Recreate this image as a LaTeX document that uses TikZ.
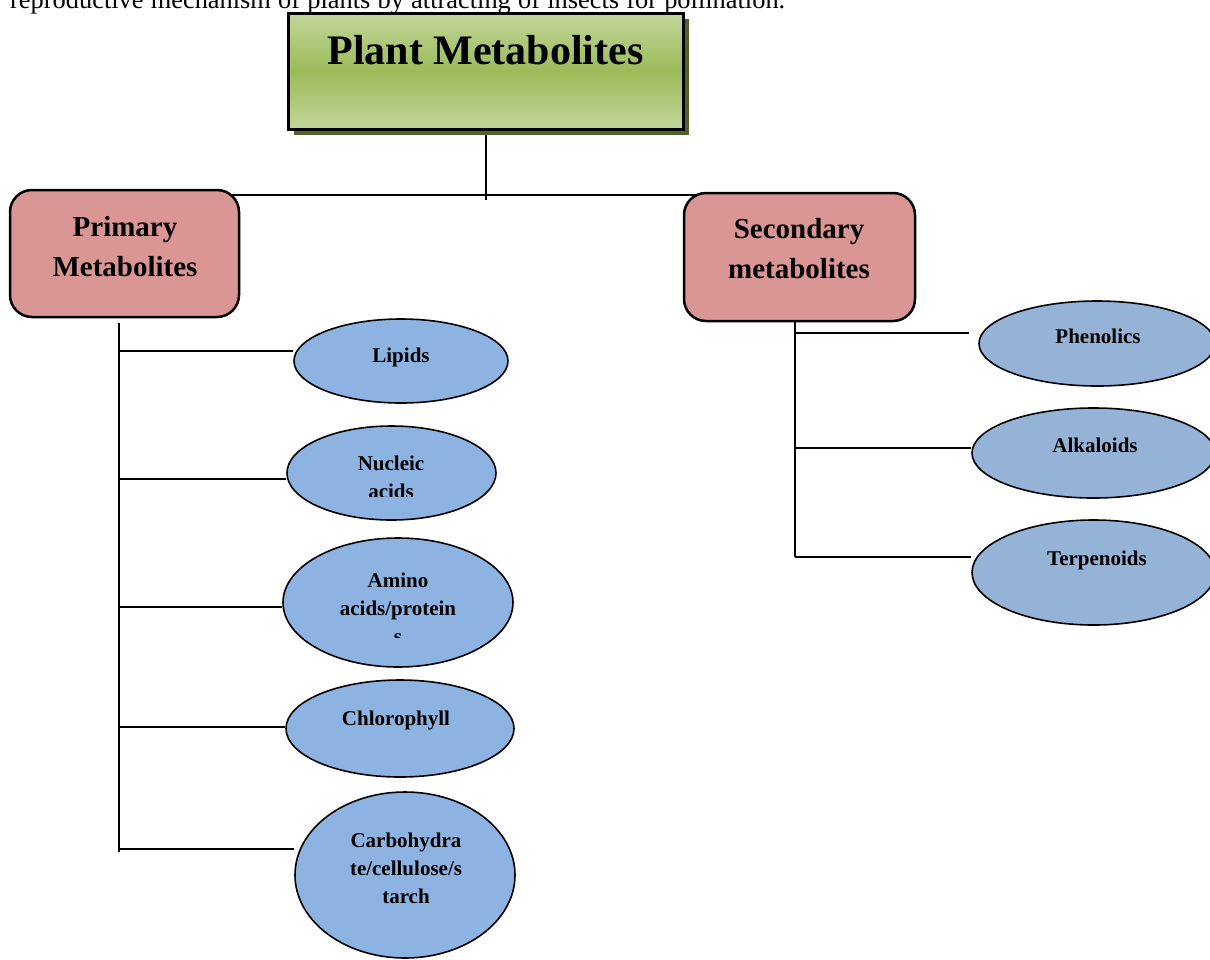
\documentclass[tikz,border=0pt]{standalone}
\usepackage{fontspec}
\setmainfont{Liberation Serif}
\usepackage{xcolor}
\usetikzlibrary{shapes.geometric, shadows, backgrounds}

\definecolor{headlight}{HTML}{C3D69B}
\definecolor{headmid}{HTML}{9BBB59}
\definecolor{headshade}{HTML}{4F6228}
\definecolor{catred}{HTML}{D99694}
\definecolor{primblue}{HTML}{8DB3E2}
\definecolor{secblue}{HTML}{95B3D7}

\begin{document}
\begin{tikzpicture}[x=1pt, y=-1pt,
        headbox/.style={rectangle, draw, line width=3pt, top color=headlight, bottom color=headlight, middle color=headmid, general shadow={fill=headshade, shadow xshift=5.5pt, shadow yshift=-5.5pt}, minimum width=395pt, minimum height=116pt, inner sep=0pt},
        catbox/.style={rectangle, draw, line width=2.5pt, fill=catred, rounded corners=22pt, inner sep=0pt},
        primell/.style={ellipse, draw, line width=1.6pt, fill=primblue, inner sep=0pt},
        secell/.style={ellipse, draw, line width=1.6pt, fill=secblue, inner sep=0pt},
        cattext/.style={anchor=base, inner sep=0pt, text width=220pt, align=center, font=\bfseries\fontsize{29}{40}\selectfont},
        elltext/.style={anchor=base, inner sep=0pt, text width=200pt, align=center, font=\bfseries\fontsize{21}{28}\selectfont},
        link/.style={line width=2pt}]
        \clip (0,0) rectangle (1210,959);

        \node (intro) [anchor=base west, inner sep=0pt, font=\fontsize{26.4}{30}\selectfont] at (10,8.5) {\makebox[775pt][s]{reproductive mechanism of plants by attracting of insects for pollination.}};

        \node (head) [headbox] at (485.5,71) {};
        \node (headT) [anchor=base, inner sep=0pt, font=\bfseries\fontsize{42}{50}\selectfont] at (485.5,64) {Plant Metabolites};

        \node (pri) [catbox, minimum width=229pt, minimum height=127pt] at (124.5,253.5) {};
        \node (sec) [catbox, minimum width=231pt, minimum height=128pt] at (799.5,257) {};
        \node (priT) [cattext] at (125,236) {Primary\\Metabolites};
        \node (secT) [cattext] at (799,238) {Secondary\\metabolites};

        % primary metabolites
        \node (lip) [primell, minimum width=214pt, minimum height=84pt] at (401,361) {};
        \node (nuc) [primell, minimum width=209pt, minimum height=94pt] at (391.5,473) {};
        \node (ami) [primell, minimum width=230pt, minimum height=129pt] at (398,602.5) {};
        \node (chl) [primell, minimum width=228pt, minimum height=97pt] at (400,728.5) {};
        \node (car) [primell, minimum width=220pt, minimum height=166pt] at (405,875) {};

        \node (lipT) [elltext] at (401,362) {Lipids};
        \begin{scope}
            \clip (280,430) rectangle (510,496);
            \node (nucT) [elltext] at (391,470) {Nucleic\\acids};
        \end{scope}
        \begin{scope}
            \clip (280,545) rectangle (520,637);
            \node (amiT) [elltext] at (398,587) {Amino\\acids/protein\\s};
        \end{scope}
        \node (chlT) [elltext] at (396,725) {Chlorophyll};
        \node (carT) [elltext] at (406,847) {Carbohydra\\te/cellulose/s\\tarch};

        % secondary metabolites
        \node (phe) [secell, minimum width=236pt, minimum height=85pt] at (1097,343.5) {};
        \node (alk) [secell, minimum width=243pt, minimum height=90pt] at (1093.5,453) {};
        \node (ter) [secell, minimum width=243pt, minimum height=105pt] at (1093.5,572.5) {};
        \node (pheT) [elltext] at (1098,343) {Phenolics};
        \node (alkT) [elltext] at (1095,452) {Alkaloids};
        \node (terT) [elltext] at (1097,565) {Terpenoids};

        \coordinate (ptop) at (119,323);
        \coordinate (pbot) at (119,852);
        \coordinate (stop) at (795,322);
        \coordinate (sbot) at (795,557);

        \begin{scope}[on background layer]
            \draw[link] (head.south) -- (head.south |- 0,200);
            \draw[link] (pri.north |- 0,195) -- (sec.north |- 0,195);
            \draw[link] (ptop) -- (pbot);
            \draw[link] (stop) -- (sbot);
            \foreach \n/\y in {lip/351, nuc/479, ami/607, chl/727, car/849}
                \draw[link] (ptop |- 0,\y) -- (\n.west |- 0,\y);
            \foreach \n/\y/\g in {phe/333/9, alk/448/0, ter/557/0}
                \draw[link, shorten >=\g pt] (stop |- 0,\y) -- (\n.west |- 0,\y);
        \end{scope}
    \end{tikzpicture}
\end{document}
